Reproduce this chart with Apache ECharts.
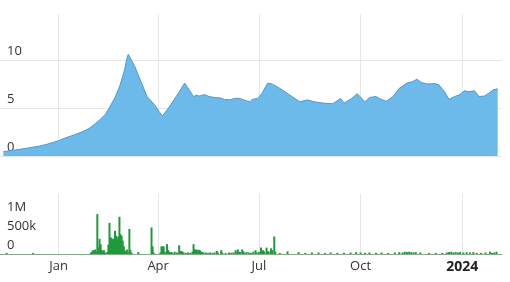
<!DOCTYPE html>
<html><head><meta charset="utf-8">
<script src="https://cdn.jsdelivr.net/npm/echarts@6/dist/echarts.min.js"></script>
<style>html,body{margin:0;padding:0;background:#fff}#c{width:510px;height:282px}</style>
</head><body><div id="c"></div>
<script>
// Price series (date, value)
const priceDates = ['2022-11-12','2022-11-27','2022-12-15','2022-12-24','2023-01-01','2023-01-06','2023-01-15','2023-01-22','2023-01-29','2023-02-03','2023-02-07','2023-02-12','2023-02-16','2023-02-21','2023-02-25','2023-03-01','2023-03-02','2023-03-04','2023-03-05','2023-03-11','2023-03-17','2023-03-22','2023-03-29','2023-04-02','2023-04-05','2023-04-11','2023-04-19','2023-04-25','2023-04-29','2023-05-03','2023-05-06','2023-05-08','2023-05-13','2023-05-17','2023-05-22','2023-05-27','2023-05-31','2023-06-05','2023-06-09','2023-06-14','2023-06-16','2023-06-20','2023-06-23','2023-06-25','2023-06-30','2023-07-04','2023-07-09','2023-07-13','2023-07-20','2023-07-29','2023-08-07','2023-08-14','2023-08-20','2023-08-29','2023-09-06','2023-09-13','2023-09-16','2023-09-23','2023-09-28','2023-10-05','2023-10-09','2023-10-15','2023-10-18','2023-10-24','2023-10-30','2023-11-05','2023-11-12','2023-11-17','2023-11-21','2023-11-25','2023-12-01','2023-12-07','2023-12-11','2023-12-16','2023-12-20','2023-12-25','2023-12-29','2024-01-03','2024-01-07','2024-01-12','2024-01-16','2024-01-21','2024-01-25','2024-01-29','2024-02-02'];
const priceValues = [0.45,0.7,1.04,1.3,1.6,1.84,2.2,2.5,2.9,3.35,3.75,4.3,5.05,6.1,7.2,8.7,9.2,10.3,10.6,9.3,7.6,6.2,5.3,4.6,4.2,5.1,6.5,7.6,6.9,6.2,6.35,6.25,6.4,6.2,6.1,6.05,5.9,5.85,6.0,6.0,5.9,5.75,5.65,5.9,6.0,6.55,7.6,7.5,7.05,6.35,5.65,5.85,5.65,5.5,5.45,6.0,5.5,6.0,6.5,5.65,6.1,6.2,6.0,5.7,6.15,7.05,7.6,7.75,8.0,7.65,7.5,7.55,7.4,6.7,5.9,6.2,6.35,6.8,6.7,6.8,6.2,6.25,6.55,6.9,7.0];

// Volume series (date, value)
const volumeDates = ['2022-11-15','2022-12-09','2023-01-30','2023-01-31','2023-02-01','2023-02-02','2023-02-03','2023-02-04','2023-02-05','2023-02-06','2023-02-07','2023-02-08','2023-02-09','2023-02-10','2023-02-11','2023-02-12','2023-02-13','2023-02-14','2023-02-15','2023-02-16','2023-02-17','2023-02-18','2023-02-19','2023-02-20','2023-02-21','2023-02-22','2023-02-23','2023-02-24','2023-02-25','2023-02-26','2023-02-27','2023-02-28','2023-03-01','2023-03-02','2023-03-03','2023-03-04','2023-03-05','2023-03-06','2023-03-07','2023-03-08','2023-03-14','2023-03-26','2023-03-27','2023-03-28','2023-04-03','2023-04-04','2023-04-05','2023-04-06','2023-04-07','2023-04-09','2023-04-10','2023-04-11','2023-04-12','2023-04-13','2023-04-14','2023-04-16','2023-04-18','2023-04-20','2023-04-21','2023-04-22','2023-04-23','2023-04-24','2023-04-26','2023-04-28','2023-04-30','2023-05-02','2023-05-03','2023-05-04','2023-05-05','2023-05-06','2023-05-07','2023-05-08','2023-05-09','2023-05-10','2023-05-11','2023-05-12','2023-05-14','2023-05-16','2023-05-18','2023-05-20','2023-05-22','2023-05-24','2023-05-25','2023-05-28','2023-05-29','2023-06-01','2023-06-04','2023-06-06','2023-06-08','2023-06-10','2023-06-11','2023-06-12','2023-06-13','2023-06-14','2023-06-16','2023-06-17','2023-06-18','2023-06-20','2023-06-22','2023-06-24','2023-06-26','2023-06-28','2023-06-29','2023-07-01','2023-07-03','2023-07-04','2023-07-05','2023-07-06','2023-07-08','2023-07-09','2023-07-10','2023-07-12','2023-07-13','2023-07-15','2023-07-16','2023-07-20','2023-07-27','2023-08-06','2023-08-12','2023-08-18','2023-08-24','2023-08-30','2023-09-04','2023-09-10','2023-09-16','2023-09-22','2023-09-27','2023-10-01','2023-10-05','2023-10-09','2023-10-15','2023-10-20','2023-10-26','2023-11-01','2023-11-05','2023-11-08','2023-11-10','2023-11-12','2023-11-14','2023-11-16','2023-11-18','2023-11-20','2023-11-24','2023-12-02','2023-12-08','2023-12-14','2023-12-18','2023-12-20','2023-12-22','2023-12-24','2023-12-26','2023-12-28','2023-12-30','2024-01-02','2024-01-05','2024-01-08','2024-01-11','2024-01-14','2024-01-18','2024-01-22','2024-01-26','2024-01-28','2024-01-30','2024-02-01'];
const volumeValues = [30000,30000,30000,60000,100000,80000,120000,60000,1050000,180000,400000,260000,110000,60000,100000,40000,20000,50000,250000,820000,440000,420000,380000,400000,610000,480000,400000,460000,980000,520000,480000,350000,200000,90000,60000,120000,40000,660000,100000,30000,50000,700000,200000,40000,40000,200000,200000,200000,60000,260000,100000,60000,40000,50000,30000,60000,40000,230000,80000,80000,60000,40000,30000,40000,30000,60000,260000,120000,120000,110000,100000,110000,90000,60000,50000,40000,40000,30000,40000,30000,40000,80000,40000,100000,40000,30000,40000,30000,40000,100000,40000,120000,60000,50000,120000,70000,40000,50000,40000,30000,60000,100000,40000,60000,170000,80000,100000,60000,170000,80000,60000,150000,100000,460000,60000,30000,70000,50000,30000,40000,40000,30000,40000,30000,30000,40000,50000,40000,30000,40000,30000,40000,30000,40000,50000,40000,60000,50000,60000,50000,40000,50000,40000,30000,30000,30000,40000,50000,60000,40000,50000,40000,50000,40000,50000,40000,50000,30000,30000,40000,60000,30000,40000,60000];

// Axis ticks
const tickDates = ['2023-01-01','2023-04-01','2023-07-01','2023-10-01','2024-01-01'];
const tickLabels = ['Jan','Apr','Jul','Oct','2024'];
const priceTicks = [0, 5, 10];
const volumeTickLabels = ['0', '500k', '1M'];

function parseDay(s){ const p = s.split('-').map(Number); return Date.UTC(p[0], p[1]-1, p[2]); }
const tickVals = tickDates.map(parseDay);
const xMin = parseDay('2022-11-09');
const xMax = parseDay('2024-02-05') + 22*3600*1000;

const font = "'Open Sans', 'Noto Sans', sans-serif";
const gridLine = { show: true, lineStyle: { color: '#e6e6e6', width: 1 } };

const chart = echarts.init(document.getElementById('c'), null, { renderer: 'canvas' });
chart.setOption({
  animation: false,
  grid: [
    { left: 0, right: 8, top: 14, height: 142, outerBoundsMode: 'none', containLabel: false },
    { left: 0, right: 8, top: 194, height: 60, outerBoundsMode: 'none', containLabel: false }
  ],
  xAxis: [
    { type: 'value', gridIndex: 0, min: xMin, max: xMax, scale: true,
      axisLine: { show: false }, axisTick: { show: false, customValues: tickVals },
      axisLabel: { show: false, customValues: tickVals },
      splitLine: gridLine },
    { type: 'value', gridIndex: 1, min: xMin, max: xMax, scale: true,
      axisLine: { show: true, onZero: false, lineStyle: { color: '#8aa88a', width: 1 } },
      axisTick: { show: false, customValues: tickVals },
      axisLabel: { show: true, customValues: tickVals, margin: 6, fontFamily: font, fontSize: 13, color: '#333',
        formatter: function (v) {
          const i = tickVals.indexOf(v);
          const t = i >= 0 ? tickLabels[i] : '';
          return /^\d{4}$/.test(t) ? '{y|' + t + '}' : t;
        },
        rich: { y: { fontWeight: 'bold', fontSize: 14, fontFamily: font, color: '#222' } } },
      splitLine: gridLine }
  ],
  yAxis: [
    { type: 'value', gridIndex: 0, min: 0, max: 14.8, interval: 5,
      axisLine: { show: false }, axisTick: { show: false },
      splitLine: { show: true, showMaxLine: false, lineStyle: { color: '#e6e6e6' } },
      axisLabel: { inside: true, margin: 7, verticalAlign: 'bottom', padding: [0, 0, 2, 0], showMaxLabel: false,
        fontFamily: font, fontSize: 13, color: '#333',
        formatter: function (v) { return priceTicks.indexOf(v) >= 0 ? String(v) : ''; } } },
    { type: 'value', gridIndex: 1, min: 0, max: 1580000, interval: 500000,
      axisLine: { show: false }, axisTick: { show: false },
      splitLine: { show: false },
      axisLabel: { inside: true, margin: 7, verticalAlign: 'bottom', padding: [0, 0, 2, 0], showMaxLabel: false,
        fontFamily: font, fontSize: 13, color: '#333',
        formatter: function (v) { const i = Math.round(v / 500000); return (v % 500000 === 0 && i < volumeTickLabels.length) ? volumeTickLabels[i] : ''; } } }
  ],
  series: [
    { type: 'line', xAxisIndex: 0, yAxisIndex: 0, symbol: 'none',
      data: priceDates.map((d, i) => [parseDay(d), priceValues[i]]),
      lineStyle: { color: '#4a9ad4', width: 1 },
      areaStyle: { color: '#6cbaea', opacity: 1 } },
    { type: 'bar', xAxisIndex: 1, yAxisIndex: 1, barWidth: 2,
      data: volumeDates.map((d, i) => [parseDay(d), volumeValues[i]]),
      itemStyle: { color: '#1e9b3c' } }
  ]
});
</script></body></html>
